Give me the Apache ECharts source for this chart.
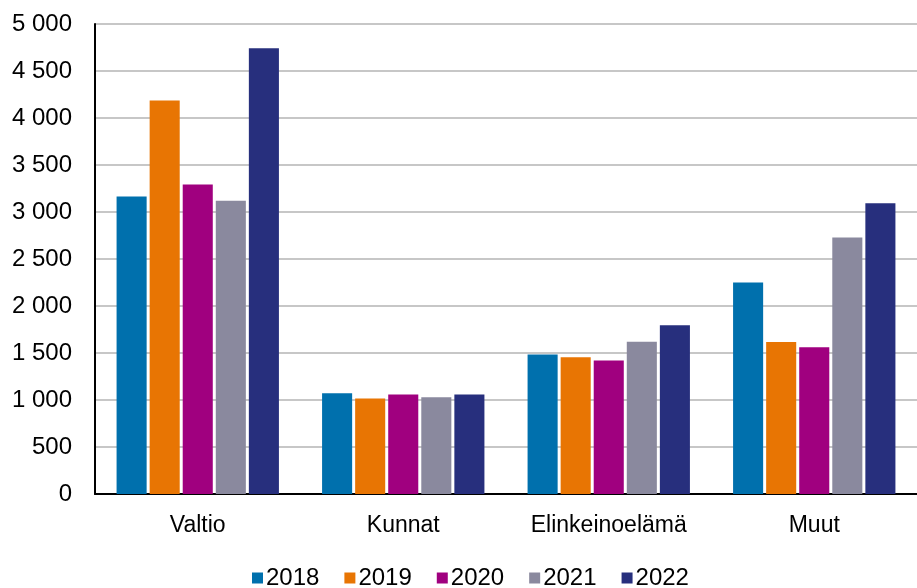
<!DOCTYPE html>
<html>
<head>
<meta charset="utf-8">
<script src="https://cdn.jsdelivr.net/npm/echarts@6/dist/echarts.min.js"></script>
<style>
  html, body { margin: 0; padding: 0; background: #fff; }
  #chart { width: 917px; height: 588px; }
</style>
</head>
<body>
<div id="chart"></div>
<script>
// sektorit ja vuodet
var categories = ['Valtio', 'Kunnat', 'Elinkeinoelämä', 'Muut'];
var years = ['2018', '2019', '2020', '2021', '2022'];
var colors = ['#0070ad', '#e87503', '#a0007f', '#8a899e', '#272f7d'];

var v2018 = [3165, 1072, 1484, 2250];
var v2019 = [4186, 1016, 1455, 1617];
var v2020 = [3293, 1059, 1420, 1562];
var v2021 = [3119, 1030, 1619, 2730];
var v2022 = [4743, 1059, 1796, 3092];
var yearValues = [v2018, v2019, v2020, v2021, v2022];

function fmt(v) {
  return String(v).replace(/\B(?=(\d{3})+(?!\d))/g, ' ');
}

var chart = echarts.init(document.getElementById('chart'));

var series = years.map(function (y, i) {
  return {
    name: y,
    type: 'bar',
    data: yearValues[i],
    barGap: '10%',
    barCategoryGap: '21%',
    itemStyle: { color: colors[i] }
  };
});

var option = {
  backgroundColor: '#fff',
  animation: false,
  textStyle: { fontFamily: 'Liberation Sans, Arial, sans-serif' },
  grid: { left: 95, right: 0, top: 24, bottom: 94, containLabel: false },
  legend: {
    data: years,
    left: 252,
    top: 566,
    padding: 0,
    itemWidth: 11,
    itemHeight: 11,
    itemGap: 25,
    icon: 'rect',
    textStyle: { fontSize: 24, color: '#000', padding: [0, 0, 0, -2] }
  },
  xAxis: {
    type: 'category',
    data: categories,
    axisLine: { show: true, lineStyle: { color: '#000', width: 2 } },
    axisTick: { show: false },
    axisLabel: { fontSize: 23, color: '#000', margin: 20 }
  },
  yAxis: {
    type: 'value',
    min: 0,
    max: 5000,
    interval: 500,
    axisLine: { show: true, lineStyle: { color: '#000', width: 2 } },
    axisTick: { show: false },
    splitLine: { lineStyle: { color: '#b4b4b4', width: 1.5 } },
    axisLabel: { fontSize: 24, color: '#000', margin: 23, formatter: fmt }
  },
  series: series
};

chart.setOption(option);
</script>
</body>
</html>
